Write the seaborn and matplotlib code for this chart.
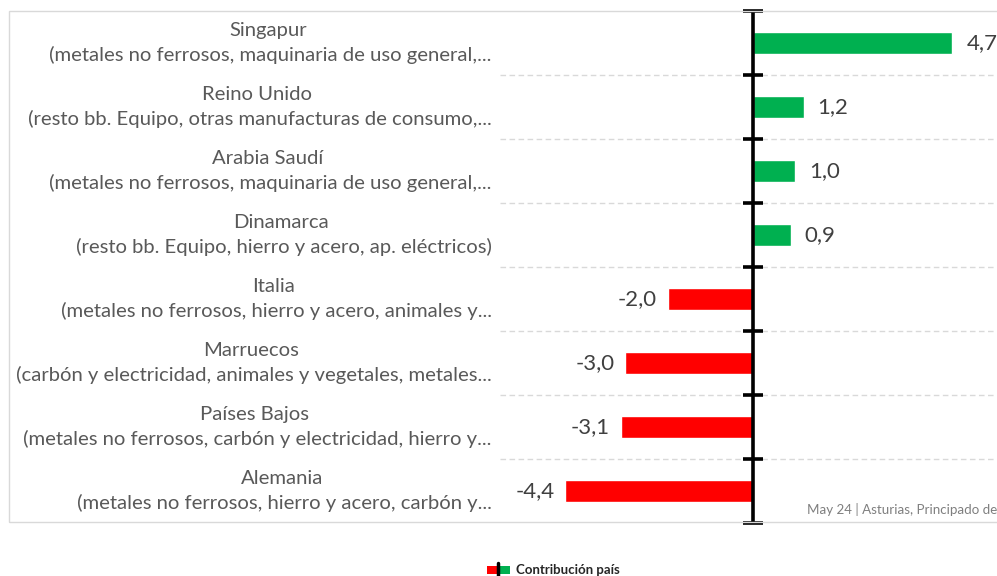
import matplotlib
matplotlib.use("Agg")
import matplotlib.pyplot as plt
import seaborn as sns
import pandas as pd
from matplotlib.patches import Rectangle
from matplotlib.lines import Line2D

countries = ["Singapur", "Reino Unido", "Arabia Saudí", "Dinamarca", "Italia",
             "Marruecos", "Países Bajos", "Alemania"]
details = ["(metales no ferrosos, maquinaria de uso general,...",
           "(resto bb. Equipo, otras manufacturas de consumo,...",
           "(metales no ferrosos, maquinaria de uso general,...",
           "(resto bb. Equipo, hierro y acero, ap. eléctricos)",
           "(metales no ferrosos, hierro y acero, animales y...",
           "(carbón y electricidad, animales y vegetales, metales...",
           "(metales no ferrosos, carbón y electricidad, hierro y...",
           "(metales no ferrosos, hierro y acero, carbón y..."]
values = [4.7, 1.2, 1.0, 0.9, -2.0, -3.0, -3.1, -4.4]
value_labels = ["4,7", "1,2", "1,0", "0,9", "-2,0", "-3,0", "-3,1", "-4,4"]
legend_label = "Contribución país"
note = "May 24 | Asturias, Principado de"

sns.set_theme(style="white")
FONT = "Lato"
plt.rcParams["font.family"] = [FONT, "DejaVu Sans"]

labels = [f"{c}\n {d}" for c, d in zip(countries, details)]
df = pd.DataFrame({"label": labels, "value": values,
                   "sign": ["pos" if v >= 0 else "neg" for v in values]})

W, H = 997, 576
fig = plt.figure(figsize=(W / 100, H / 100), dpi=100)
ax = fig.add_axes([500 / W, 1 - 523 / H, (997 - 500) / W, (523 - 11) / H])

sns.barplot(data=df, x="value", y="label", hue="sign", orient="h",
            palette={"pos": "#00B050", "neg": "#FF0000"}, width=0.35,
            dodge=False, legend=False, ax=ax, saturation=1)

ax.set_xlim(-5.94, 5.75)
ax.set_ylim(len(values) - 0.5, -0.5)
ax.set_xlabel("")
ax.set_ylabel("")
ax.set_xticks([])
for s in ax.spines.values():
    s.set_visible(False)

# dashed gridlines between categories
bounds = [i - 0.5 for i in range(len(values) + 1)]
for b in bounds[1:-1]:
    ax.axhline(b, color="#d9d9d9", lw=1, ls=(0, (4, 2.5)), zorder=0)

# zero axis with tick marks
ax.axvline(0, color="black", lw=2.6, zorder=3)
ax.plot([0] * len(bounds), bounds, ls="none", marker="_", ms=14, mew=2.6,
        color="black", zorder=3, clip_on=False)

ax.tick_params(axis="y", length=0, pad=6)
ax.set_yticks(range(len(labels)))
ax.set_yticklabels(labels, fontsize=14.6, color="#595959", multialignment="center",
                   linespacing=1.5)
for lab in ax.get_yticklabels():
    lab.set_va("center")

for i, (v, t) in enumerate(zip(values, value_labels)):
    if v >= 0:
        ax.text(v + 0.33, i, t, ha="left", va="center", fontsize=16,
                color="#404040", clip_on=False)
    else:
        ax.text(v - 0.25, i, t, ha="right", va="center", fontsize=16,
                color="#404040", clip_on=False)

# outer border
fig.patches.append(Rectangle((9 / W, 1 - 522 / H), 1.2, (522 - 11) / H,
                             transform=fig.transFigure, fill=False,
                             edgecolor="#d9d9d9", lw=1))

fig.text(807 / W, 1 - 510 / H, note, fontsize=9.6, color="#7f7f7f",
         ha="left", va="center")


class SplitHandler:
    def legend_artist(self, legend, orig_handle, fontsize, handlebox):
        x0, y0 = handlebox.xdescent, handlebox.ydescent
        w, h = handlebox.width, handlebox.height
        r1 = Rectangle((x0, y0), w / 2, h, facecolor="#FF0000", edgecolor="none",
                       transform=handlebox.get_transform())
        r2 = Rectangle((x0 + w / 2, y0), w / 2, h, facecolor="#00B050", edgecolor="none",
                       transform=handlebox.get_transform())
        ln = Line2D([x0 + w / 2, x0 + w / 2], [y0 - 2, y0 + h + 2], color="black", lw=2.5,
                    transform=handlebox.get_transform())
        for a in (r1, r2, ln):
            handlebox.add_artist(a)
        return r1


class Dummy:
    pass


fig.legend([Dummy()], [legend_label], handler_map={Dummy: SplitHandler()},
           loc="center", bbox_to_anchor=(553 / W, 1 - 570 / H), frameon=False,
           handlelength=1.8, handleheight=0.6, handletextpad=0.4,
           prop={"family": FONT, "weight": "bold", "size": 9.5})

fig.savefig("out.png", dpi=100)
